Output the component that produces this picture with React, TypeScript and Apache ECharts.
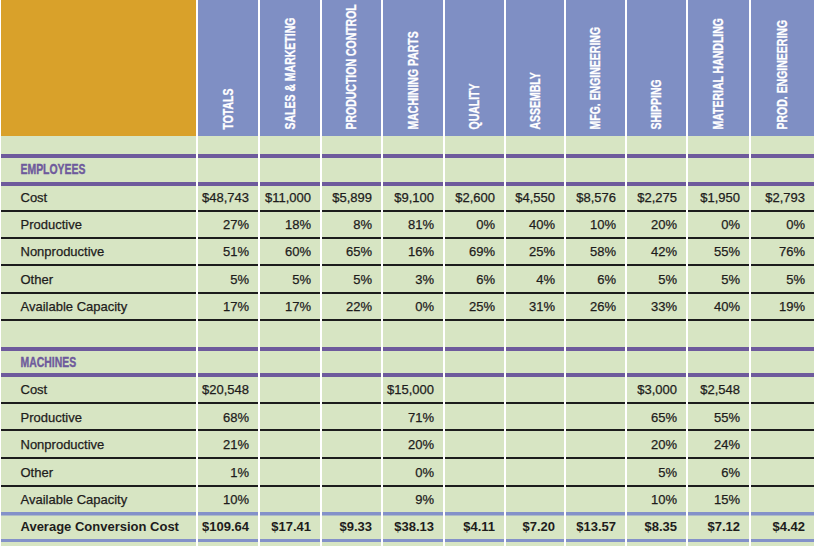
import React, { useEffect, useRef } from "react";
import * as echarts from "echarts";

// ---------- data ----------
const departments = [
  "TOTALS",
  "SALES & MARKETING",
  "PRODUCTION CONTROL",
  "MACHINING PARTS",
  "QUALITY",
  "ASSEMBLY",
  "MFG. ENGINEERING",
  "SHIPPING",
  "MATERIAL HANDLING",
  "PROD. ENGINEERING",
];
const sectionTitles = ["EMPLOYEES", "MACHINES"];
const metricLabels = ["Cost", "Productive", "Nonproductive", "Other", "Available Capacity"];
const totalLabel = "Average Conversion Cost";

const employeeCost = [48743, 11000, 5899, 9100, 2600, 4550, 8576, 2275, 1950, 2793];
const employeeProductive = [27, 18, 8, 81, 0, 40, 10, 20, 0, 0];
const employeeNonproductive = [51, 60, 65, 16, 69, 25, 58, 42, 55, 76];
const employeeOther = [5, 5, 5, 3, 6, 4, 6, 5, 5, 5];
const employeeAvailable = [17, 17, 22, 0, 25, 31, 26, 33, 40, 19];

const machineCost = [20548, null, null, 15000, null, null, null, 3000, 2548, null];
const machineProductive = [68, null, null, 71, null, null, null, 65, 55, null];
const machineNonproductive = [21, null, null, 20, null, null, null, 20, 24, null];
const machineOther = [1, null, null, 0, null, null, null, 5, 6, null];
const machineAvailable = [10, null, null, 9, null, null, null, 10, 15, null];

const avgConversionCost = [109.64, 17.41, 9.33, 38.13, 4.11, 7.2, 13.57, 8.35, 7.12, 4.42];

// ---------- layout & style ----------
const W = 814;
const H = 546;
const COLS: [number, number][] = [
  [1, 196],
  [198, 258],
  [260, 320],
  [322, 381],
  [383, 443],
  [445, 504],
  [506, 564],
  [566, 625],
  [627, 686],
  [688, 749],
  [751, 814],
];
const HEADER_BOTTOM = 136;
const HEADER_TEXT_BASE = 129.5;
const LINES: [number, number, string][] = [
  [154, 4, "p"],
  [182, 4, "p"],
  [210, 2, "k"],
  [237, 2, "k"],
  [264, 2, "k"],
  [292, 2, "k"],
  [319, 2, "k"],
  [347, 4, "p"],
  [373, 4, "p"],
  [402, 2, "k"],
  [429, 2, "k"],
  [457, 2, "k"],
  [485, 2, "k"],
  [512, 3.5, "b"],
  [539, 3, "b"],
];
const SECTION_Y = [169, 362];
const EMP_ROW_Y = [197, 224.5, 251.5, 279, 306.5];
const MACH_ROW_Y = [389, 417, 444, 472, 499];
const TOTAL_ROW_Y = 526.5;
const LABEL_X = 20.5;
const VALUE_PAD = 9;

const C = {
  orange: "#D9A12A",
  blue: "#7F8FC4",
  green: "#D7E5C3",
  purple: "#6E5A9C",
  lineBlue: "#8391C9",
  black: "#1C1C1C",
  text: "#1E1C1C",
  white: "#FFFFFF",
};
const LINE_COLORS: Record<string, string> = { p: C.purple, k: C.black, b: C.lineBlue };
const FONT = "'Liberation Sans', Arial, sans-serif";

const fmtMoney = (v: number | null) => (v == null ? "" : "$" + v.toLocaleString("en-US"));
const fmtPct = (v: number | null) => (v == null ? "" : v + "%");
const fmtDec = (v: number | null) => (v == null ? "" : "$" + v.toFixed(2));

type Item =
  | { t: "rect"; x0: number; y0: number; x1: number; y1: number; fill: string }
  | {
      t: "text";
      x: number;
      y: number;
      text: string;
      fill: string;
      size: number;
      weight: string;
      align: string;
      rot?: number;
      sx?: number;
      stroke?: number;
    };

function buildItems(): Item[] {
  const items: Item[] = [];
  // backgrounds
  COLS.forEach(([x0, x1], c) => {
    items.push({ t: "rect", x0, y0: 0, x1, y1: HEADER_BOTTOM, fill: c === 0 ? C.orange : C.blue });
    items.push({ t: "rect", x0, y0: HEADER_BOTTOM, x1, y1: H, fill: C.green });
  });
  // rules
  COLS.forEach(([x0, x1]) => {
    LINES.forEach(([y, h, k]) => {
      items.push({ t: "rect", x0, y0: y, x1, y1: y + h, fill: LINE_COLORS[k] });
    });
  });
  // header labels (vertical)
  departments.forEach((d, i) => {
    const [x0, x1] = COLS[i + 1];
    items.push({
      t: "text",
      x: (x0 + x1) / 2,
      y: HEADER_TEXT_BASE,
      text: d,
      fill: C.white,
      size: 14,
      weight: "bold",
      align: "left",
      rot: Math.PI / 2,
      sx: 0.75,
      stroke: 0.3,
    });
  });
  // section titles
  sectionTitles.forEach((s, i) => {
    items.push({
      t: "text",
      x: LABEL_X,
      y: SECTION_Y[i],
      text: s,
      fill: C.purple,
      size: 14.5,
      weight: "bold",
      align: "left",
      sx: 0.72,
      stroke: 0.4,
    });
  });
  const addRows = (rowsY: number[], series: (number | null)[][], fmts: ((v: number | null) => string)[]) => {
    metricLabels.forEach((lab, r) => {
      items.push({
        t: "text",
        x: LABEL_X,
        y: rowsY[r],
        text: lab,
        fill: C.text,
        size: 13,
        weight: "normal",
        align: "left",
        stroke: 0.25,
      });
      series[r].forEach((v, c) => {
        const s = fmts[r](v);
        if (!s) return;
        items.push({
          t: "text",
          x: COLS[c + 1][1] - VALUE_PAD,
          y: rowsY[r],
          text: s,
          fill: C.text,
          size: 13,
          weight: "normal",
          align: "right",
          stroke: 0.25,
        });
      });
    });
  };
  const fmts = [fmtMoney, fmtPct, fmtPct, fmtPct, fmtPct];
  addRows(EMP_ROW_Y, [employeeCost, employeeProductive, employeeNonproductive, employeeOther, employeeAvailable], fmts);
  addRows(MACH_ROW_Y, [machineCost, machineProductive, machineNonproductive, machineOther, machineAvailable], fmts);
  items.push({
    t: "text",
    x: LABEL_X,
    y: TOTAL_ROW_Y,
    text: totalLabel,
    fill: C.text,
    size: 13,
    weight: "bold",
    align: "left",
  });
  avgConversionCost.forEach((v, c) => {
    items.push({
      t: "text",
      x: COLS[c + 1][1] - VALUE_PAD,
      y: TOTAL_ROW_Y,
      text: fmtDec(v),
      fill: C.text,
      size: 13,
      weight: "bold",
      align: "right",
    });
  });
  return items;
}

export default function App() {
  const ref = useRef<HTMLDivElement>(null);
  useEffect(() => {
    if (!ref.current) return;
    const chart = echarts.init(ref.current, undefined, { renderer: "svg" });
    const items = buildItems();
    chart.setOption({
      animation: false,
      backgroundColor: "#FFFFFF",
      grid: { left: 0, right: 0, top: 0, bottom: 0 },
      xAxis: { type: "value", min: 0, max: W, show: false },
      yAxis: { type: "value", min: 0, max: H, inverse: true, show: false },
      series: [
        {
          type: "custom",
          silent: true,
          clip: false,
          data: items.map((_, i) => [i, 0]),
          renderItem: (params: any, api: any) => {
            const it = items[params.dataIndex];
            if (it.t === "rect") {
              const p0 = api.coord([it.x0, it.y0]);
              const p1 = api.coord([it.x1, it.y1]);
              return {
                type: "rect",
                shape: { x: p0[0], y: p0[1], width: p1[0] - p0[0], height: p1[1] - p0[1] },
                style: { fill: it.fill },
              };
            }
            const p = api.coord([it.x, it.y]);
            const style: any = {
              text: it.text,
              fill: it.fill,
              fontSize: it.size,
              fontWeight: it.weight,
              fontFamily: FONT,
              align: it.align,
              verticalAlign: "middle",
            };
            if (it.stroke) {
              style.stroke = it.fill;
              style.lineWidth = it.stroke;
            }
            return {
              type: "text",
              x: p[0],
              y: p[1],
              rotation: it.rot || 0,
              scaleX: it.sx || 1,
              style,
            };
          },
        },
      ],
    });
    return () => chart.dispose();
  }, []);
  return <div ref={ref} style={{ position: "fixed", left: 0, top: 0, width: W, height: H }} />;
}
